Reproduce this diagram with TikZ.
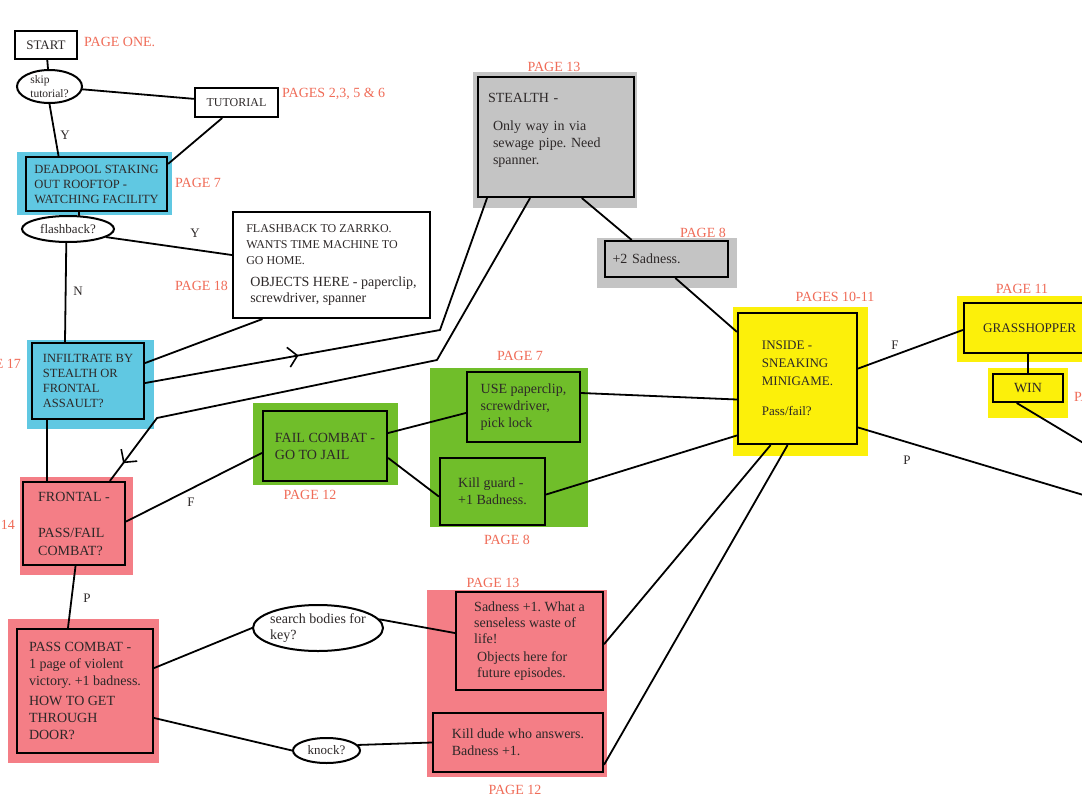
\documentclass[tikz,border=0pt]{standalone}
\usepackage{fontspec}
\setmainfont{Liberation Serif}
\usepackage{xcolor}
\usepackage{tikz}
\usetikzlibrary{shapes.geometric,positioning,calc,arrows.meta,decorations.markings}

\definecolor{pagered}{RGB}{240,108,88}
\definecolor{padcyan}{RGB}{96,200,226}
\definecolor{padgray}{RGB}{196,196,196}
\definecolor{padyellow}{RGB}{252,240,10}
\definecolor{padgreen}{RGB}{112,190,42}
\definecolor{padpink}{RGB}{244,126,134}
\definecolor{ink}{RGB}{45,40,40}
\newcommand{\notefont}{\fontsize{12}{15}\selectfont}
\frenchspacing

\begin{document}
\begin{tikzpicture}[
    x=1pt, y=-1pt,
    box/.style={draw=black, line width=2.4pt, align=left, inner sep=3pt, text=ink, font=\fontsize{14}{17}\selectfont},
    capbox/.style={box, font=\fontsize{12.5}{15}\selectfont},
    bubble/.style={draw=black, ellipse, line width=2pt, align=left, inner sep=0pt, fill=white, text=ink, font=\fontsize{13}{15}\selectfont},
    page/.style={text=pagered, inner sep=0pt, font=\fontsize{14}{16}\selectfont},
    tag/.style={text=ink, inner sep=0pt, font=\fontsize{13}{15}\selectfont},
    link/.style={line width=1.8pt, line cap=round, line join=round},
    midarrow/.style={postaction={decorate}, decoration={markings, mark=at position #1 with {\arrow{Straight Barb[length=9pt,width=20pt,line width=1.6pt]}}}}
]
\useasboundingbox (0,0) rectangle (1082,811);
\fill[white] (0,0) rectangle (1082,811);
\clip (0,0) rectangle (1082,811);

% coloured pads behind the boxes
\fill[padcyan] (17,152) rectangle (172,215);
\fill[padcyan] (27,340) rectangle (154,429);
\fill[padgray] (473,72) rectangle (637,208);
\fill[padgray] (597,238) rectangle (737,288);
\fill[padyellow] (733,307) rectangle (868,456);
\fill[padyellow] (957,296) rectangle (1090,362);
\fill[padyellow] (988,368) rectangle (1068,418);
\fill[padgreen] (253,403) rectangle (398,485);
\fill[padgreen] (430,368) rectangle (588,527);
\fill[padpink] (20,477) rectangle (133,575);
\fill[padpink] (8,619) rectangle (159,763);
\fill[padpink] (427,590) rectangle (607,777);

\node[box, fill=white, minimum width=62pt, minimum height=28pt, font=\fontsize{13}{15}\selectfont] (start) at (46,45) {START};
\node[bubble, inner ysep=-4pt, minimum width=65pt, minimum height=33pt, font=\fontsize{11.5}{14}\selectfont] (skipq) at (49.5,86.5) {skip\\tutorial?};
\node[capbox, fill=white, minimum width=83pt, minimum height=29pt, font=\fontsize{12}{14}\selectfont] (tutorial) at (236.5,102.5) {TUTORIAL};
\node[capbox, fill=padcyan, minimum width=141pt, minimum height=54pt] (deadpool) at (96.5,184) {DEADPOOL STAKING\\OUT ROOFTOP -\\WATCHING FACILITY};
\node[bubble, minimum width=92pt, minimum height=26pt] (flashq) at (68,229) {flashback?};
\node[box, fill=white, minimum width=197pt, minimum height=106pt, font=\fontsize{14}{16}\selectfont] (flashback) at (331.5,265) {{\notefont FLASHBACK TO ZARRKO.}\\{\notefont WANTS TIME MACHINE TO}\\{\notefont GO HOME.}\\[6pt]\hspace*{4pt}OBJECTS HERE - paperclip,\\\hspace*{4pt}screwdriver, spanner};
\node[capbox, fill=padcyan, minimum width=112pt, minimum height=76pt] (infiltrate) at (88,381) {INFILTRATE BY\\STEALTH OR\\FRONTAL\\ASSAULT?};
\node[box, fill=padgray, inner xsep=10pt, text width=136pt, minimum height=120pt] (stealth) at (556,137) {STEALTH -\\[11pt]\hspace*{5pt}Only way in via\\\hspace*{5pt}sewage pipe. Need\\\hspace*{5pt}spanner.\\\mbox{}};
\node[box, fill=padgray, text width=108pt, minimum width=123pt, minimum height=36pt] (sadness2) at (666.5,259) {+2 Sadness.};
\node[box, fill=padyellow, minimum width=119pt, minimum height=131pt, font=\fontsize{13}{18}\selectfont] (inside) at (797.5,378.5) {INSIDE -\\SNEAKING\\MINIGAME.\\[12pt]Pass/fail?};
\node[box, fill=padyellow, inner xsep=19pt, text width=106pt, minimum height=50pt, font=\fontsize{13.2}{16}\selectfont] (grass) at (1036,328) {GRASSHOPPER};
\node[box, fill=padyellow, minimum width=70pt, minimum height=28pt] (win) at (1028,388) {WIN};
\node[box, fill=padgreen, minimum width=124pt, minimum height=70pt] (failcombat) at (325,446) {FAIL COMBAT -\\GO TO JAIL};
\node[box, fill=padgreen, minimum width=113pt, minimum height=70pt] (usekit) at (523.5,407) {USE paperclip,\\screwdriver,\\pick lock};
\node[box, fill=padgreen, minimum width=105pt, minimum height=67pt] (killguard) at (492.5,491.5) {Kill guard -\\+1 Badness.};
\node[box, fill=padpink, minimum width=102pt, minimum height=83pt, font=\fontsize{14}{18}\selectfont] (frontal) at (74,523.5) {FRONTAL -\\[18pt]PASS/FAIL\\COMBAT?};
\node[box, fill=padpink, minimum width=136pt, minimum height=124pt] (passcombat) at (85,691) {PASS COMBAT -\\1 page of violent\\victory. +1 badness.\\[3pt]HOW TO GET\\THROUGH\\DOOR?};
\node[bubble, inner xsep=-3pt, minimum width=130pt, minimum height=46pt, font=\fontsize{14}{16}\selectfont] (searchq) at (318,628) {search bodies for\\key?};
\node[bubble, minimum width=67pt, minimum height=25pt] (knockq) at (326.5,750.5) {knock?};
\node[box, fill=padpink, minimum width=147pt, minimum height=98pt, font=\fontsize{14}{16}\selectfont] (sadness1) at (529.5,641) {Sadness +1. What a\\senseless waste of\\life!\\[2pt]\hspace*{3pt}Objects here for\\\hspace*{3pt}future episodes.};
\node[box, fill=padpink, minimum width=170pt, minimum height=59pt] (killdude) at (518,742.5) {Kill dude who answers.\\Badness +1.};

\node[page, anchor=west] (pone) at (84,42) {PAGE ONE.};
\node[page, anchor=west] (ptutorial) at (282,94) {PAGES 2,3, 5 \& 6};
\node[page, anchor=west] (pdeadpool) at (175,183) {PAGE 7};
\node[page, anchor=west] (pflash) at (175,286) {PAGE 18};
\node[page, anchor=east] (pinfiltrate) at (21,364) {PAGE 17};
\node[page, anchor=east] (pfrontal) at (15,525) {PAGE 14};
\node[page] (pstealth) at (554,67) {PAGE 13};
\node[page] (psadness2) at (703,233) {PAGE 8};
\node[page] (pinside) at (835,297) {PAGES 10-11};
\node[page] (pgrass) at (1022,289) {PAGE 11};
\node[page, anchor=west] (pwin) at (1074,397) {PAGE};
\node[page] (pusekit) at (520,356) {PAGE 7};
\node[page] (pfail) at (310,495) {PAGE 12};
\node[page] (pkillguard) at (507,540) {PAGE 8};
\node[page] (psadness1) at (493,583) {PAGE 13};
\node[page] (pkilldude) at (515,790) {PAGE 12};

\node[tag] (yskip) at (65,135) {Y};
\node[tag] (yflash) at (195,233) {Y};
\node[tag] (nflash) at (78,291) {N};
\node[tag] (ffrontal) at (191,502) {F};
\node[tag] (pfrontaltag) at (87,598) {P};
\node[tag] (finside) at (895,345) {F};
\node[tag] (pinsidetag) at (907,460) {P};

\coordinate (bendA) at (440,330);
\coordinate (bendB) at (437,360);
\coordinate (bendC) at (157,418);
\coordinate (exitwin) at (1090,447);
\coordinate (exitpass) at (1090,497);

\draw[link] (start) -- (skipq);
\draw[link] (skipq) -- (tutorial);
\draw[link] (skipq.south) -- ([xshift=-38pt]deadpool.north);
\draw[link] ([xshift=-14.5pt]tutorial.south) -- ([yshift=-8pt]deadpool.north east);
\draw[link] (deadpool.south -| flashq.50) -- (flashq.50);
\draw[link] (flashq.-12) -- ([yshift=10pt]flashback.west);
\draw[link] (flashq.263) -- ([xshift=-23pt]infiltrate.north);
\draw[link] ([xshift=-69.5pt]flashback.south) -- ([yshift=18pt]infiltrate.east);
\draw[link, midarrow=0.52] ([yshift=-2pt]infiltrate.east) -- (bendA);
\draw[link] (bendA) -- ([xshift=-69pt]stealth.south);
\draw[link] ([xshift=-26pt]stealth.south) -- (bendB) -- (bendC);
\draw[link, midarrow=0.72] (bendC) -- ([xshift=36pt]frontal.north);
\draw[link] ([xshift=26pt]stealth.south) -- ([xshift=-35pt]sadness2.north);
\draw[link] ([xshift=9pt]sadness2.south) -- ([yshift=-20pt]inside.north west);
\draw[link] ([xshift=-41pt]infiltrate.south) -- ([xshift=-27pt]frontal.north);
\draw[link] ([yshift=2pt]frontal.east) -- ([yshift=-7pt]failcombat.west);
\draw[link] ([yshift=13pt]failcombat.east) -- ([yshift=-6pt]usekit.west);
\draw[link] ([yshift=-12pt]failcombat.east) -- ([yshift=-5pt]killguard.west);
\draw[link] ([yshift=14pt]usekit.east) -- ([yshift=-21pt]inside.west);
\draw[link] ([yshift=-3pt]killguard.east) -- ([yshift=-57pt]inside.west);
\draw[link] ([xshift=-27pt]inside.south) -- ([yshift=-3pt]sadness1.east);
\draw[link] ([xshift=-10pt]inside.south) -- ([yshift=-22pt]killdude.east);
\draw[link] ([yshift=10pt]inside.east) -- ([yshift=-2pt]grass.west);
\draw[link] ([yshift=-49pt]inside.east) -- (exitpass);
\draw[link] (grass.south -| win.north) -- (win.north);
\draw[link] ([xshift=-11pt]win.south) -- (exitwin);
\draw[link] ([xshift=1.5pt]frontal.south) -- ([xshift=-17pt]passcombat.north);
\draw[link] ([yshift=23pt]passcombat.east) -- (searchq.west);
\draw[link] ([yshift=-27pt]passcombat.east) -- (knockq.west);
\draw[link] (searchq.8) -- ([yshift=8pt]sadness1.west);
\draw[link] (knockq.10) -- (killdude.west);
\end{tikzpicture}
\end{document}
